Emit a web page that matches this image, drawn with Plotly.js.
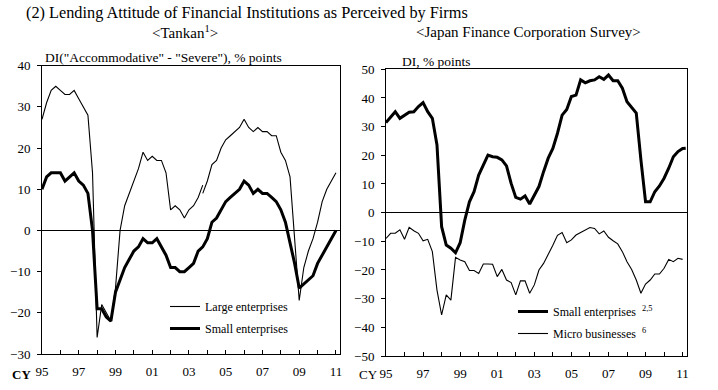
<!DOCTYPE html>
<html>
<head>
<meta charset="utf-8">
<script src="https://cdn.plot.ly/plotly-3.0.1.min.js"></script>
<style>html,body{margin:0;padding:0;background:#fff;}#chart{width:718px;height:390px;}</style>
</head>
<body>
<div id="chart"></div>
<script>
// ---- Data (quarterly, 1995Q1 .. 2011Q1) ----
const startYear = 1995;
const labelYears = [1995,1997,1999,2001,2003,2005,2007,2009,2011];
const labelText = ["95","97","99","01","03","05","07","09","11"];

// Tankan: Large enterprises (old basis, 1995Q1..2003Q4)
const tankanLargeOld = [27,31,34,35,34,33,33,34,32,30,28,14,-26,-18,-20,-22,-14,0,6,9,12,15,19,17,18,17,17,14,5,6,5,3,5,6,8,11];
// Tankan: Large enterprises (new basis, 2003Q4..2011Q1)
const tankanLargeNew = [9,12,16,17,20,22,23,24,25,27,25,24,25,24,24,23,23,19,17,13,-2,-17,-9,-5,-2,2,7,10,12,14];
const tankanLargeNewStart = 35; // quarter index of 2003Q4
// Tankan: Small enterprises (1995Q1..2011Q1)
const tankanSmall = [10,13,14,14,14,12,13,14,12,11,9,0,-19,-19,-21,-22,-15,-12,-9,-7,-5,-4,-2,-3,-3,-2,-4,-6,-9,-9,-10,-10,-9,-8,-5,-4,-2,2,3,5,7,8,9,10,12,11,9,10,9,9,8,7,5,2,-3,-8,-14,-13,-12,-11,-8,-6,-4,-2,0];

// Japan Finance Corporation Survey
const jfcSmall = [31.4,33.3,35.2,32.9,34,35,35.2,37,38.4,35.2,32.9,23.6,-4.9,-11.3,-12.4,-14,-10.5,-2.6,3.8,7.3,13.1,16.6,20.1,19.5,19.3,18.4,16.3,10.2,5.3,4.7,5.8,3,6.2,9.1,14.3,19,22.4,27.7,34,36,40.5,41,46.3,45.3,46,46.3,47.4,46.5,48,46,46,43.4,38.7,36.6,34.7,18.4,3.8,3.8,7.3,9.3,12,15.5,19.5,21.3,22.4];
const jfcSmallLatest = {period: 2011 + 2/12, value: 22.5}; // latest monthly reading
const jfcMicro = [-9,-7.2,-7.2,-6,-9.3,-5.1,-6.3,-7.2,-9.8,-9.3,-13.6,-27,-35.7,-28.7,-30.5,-15.6,-16.5,-17.1,-20.2,-20.2,-21.2,-17.9,-17.9,-18,-22.3,-19.8,-23.5,-24.4,-28.7,-23.8,-23.8,-28.1,-25.2,-20,-17.7,-14.8,-11.4,-7.9,-6.9,-10.5,-9.5,-7.8,-7,-6,-5.2,-5.5,-7.4,-6.4,-8.6,-9.8,-10.9,-13.6,-17.1,-19.8,-23.5,-28.1,-24.9,-23.5,-21.4,-21.4,-19.4,-16.3,-17.1,-15.9,-16.3];

// ---- helpers ----
const qx = (i) => startYear + i / 4;
const xs = (arr, offset) => arr.map((_, i) => qx(i + (offset || 0)));

const W = 718, H = 390;
const FONT = "Liberation Serif";
const px = (v) => v / W;
const py = (v) => 1 - v / H;

const traces = [
  {x: xs(tankanLargeOld), y: tankanLargeOld, type: 'scatter', mode: 'lines', name: 'Large enterprises',
   line: {color: '#000', width: 1.1}, xaxis: 'x', yaxis: 'y', legend: 'legend', legendgroup: 'a', legendrank: 1},
  {x: xs(tankanLargeNew, tankanLargeNewStart), y: tankanLargeNew, type: 'scatter', mode: 'lines', name: 'Large enterprises',
   line: {color: '#000', width: 1.1}, xaxis: 'x', yaxis: 'y', showlegend: false, legendgroup: 'a'},
  {x: xs(tankanSmall), y: tankanSmall, type: 'scatter', mode: 'lines', name: 'Small enterprises',
   line: {color: '#000', width: 3}, xaxis: 'x', yaxis: 'y', legend: 'legend', legendgroup: 'b', legendrank: 2},
  {x: xs(jfcSmall).concat([jfcSmallLatest.period]), y: jfcSmall.concat([jfcSmallLatest.value]), type: 'scatter', mode: 'lines',
   name: 'Small enterprises\u00a0\u00a0<sup>2,5</sup>',
   line: {color: '#000', width: 3}, xaxis: 'x2', yaxis: 'y2', legend: 'legend2', legendgroup: 'c', legendrank: 1},
  {x: xs(jfcMicro), y: jfcMicro, type: 'scatter', mode: 'lines',
   name: 'Micro businesses\u00a0\u00a0<sup>6</sup>',
   line: {color: '#000', width: 1.1}, xaxis: 'x2', yaxis: 'y2', legend: 'legend2', legendgroup: 'd', legendrank: 2}
];

const xCommon = {
  range: [1995, 2011.22], tickmode: 'array', tickvals: labelYears, ticktext: labelText,
  ticks: 'inside', ticklen: 4, tickcolor: '#000', tickwidth: 1,
  minor: {tick0: 1995, dtick: 1, ticks: 'inside', ticklen: 4, tickcolor: '#000', tickwidth: 1, showgrid: false},
  showline: true, linecolor: '#000', linewidth: 1, mirror: true,
  showgrid: false, zeroline: false, fixedrange: true,
  tickfont: {family: FONT, size: 13, color: '#000'}, ticklabelstandoff: 5
};
const yCommon = {
  ticks: 'outside', ticklen: 4, tickcolor: '#000', tickwidth: 1,
  showline: true, linecolor: '#000', linewidth: 1, mirror: true,
  showgrid: false, zeroline: true, zerolinecolor: '#000', zerolinewidth: 1,
  tickfont: {family: FONT, size: 13, color: '#000'}, ticklabelstandoff: 4, dtick: 10
};

const layout = {
  width: W, height: H,
  margin: {l: 0, r: 0, t: 0, b: 0},
  paper_bgcolor: '#fff', plot_bgcolor: '#fff',
  font: {family: FONT, color: '#000', size: 13},
  title: {text: '(2) Lending Attitude of Financial Institutions as Perceived by Firms',
    font: {family: FONT, size: 16.3, color: '#000'},
    x: px(26), xanchor: 'left', xref: 'paper', y: py(12.5), yanchor: 'middle', yref: 'container'},
  xaxis: Object.assign({}, xCommon, {domain: [px(42), px(340)], anchor: 'y'}),
  yaxis: Object.assign({}, yCommon, {domain: [py(354), py(65.7)], range: [-30, 40], anchor: 'x'}),
  xaxis2: Object.assign({}, xCommon, {domain: [px(386), px(686.7)], anchor: 'y2'}),
  yaxis2: Object.assign({}, yCommon, {domain: [py(356), py(69.3)], range: [-50, 50], anchor: 'x2'}),
  showlegend: true,
  legend: {x: px(165), xanchor: 'left', y: py(292), yanchor: 'top', bgcolor: 'rgba(0,0,0,0)',
    borderwidth: 0, font: {family: FONT, size: 12, color: '#000'}, tracegroupgap: 3, traceorder: 'grouped'},
  legend2: {x: px(513), xanchor: 'left', y: py(297), yanchor: 'top', bgcolor: 'rgba(0,0,0,0)',
    borderwidth: 0, font: {family: FONT, size: 12, color: '#000'}, tracegroupgap: 3, traceorder: 'grouped'},
  annotations: [
    {text: '&lt;Tankan<sup>1</sup>&gt;', xref: 'paper', yref: 'paper', x: px(185), y: py(31.5),
     xanchor: 'center', yanchor: 'middle', showarrow: false, font: {family: FONT, size: 15}},
    {text: '&lt;Japan Finance Corporation Survey&gt;', xref: 'paper', yref: 'paper', x: px(528), y: py(31.5),
     xanchor: 'center', yanchor: 'middle', showarrow: false, font: {family: FONT, size: 15}},
    {text: 'DI("Accommodative" - "Severe"), % points', xref: 'paper', yref: 'paper', x: px(43), y: py(57.5),
     xanchor: 'left', yanchor: 'middle', showarrow: false, font: {family: FONT, size: 13.5}},
    {text: 'DI, % points', xref: 'paper', yref: 'paper', x: px(400), y: py(61.5),
     xanchor: 'left', yanchor: 'middle', showarrow: false, font: {family: FONT, size: 13.5}},
    {text: '<b>CY</b>', xref: 'paper', yref: 'paper', x: px(33), y: py(374),
     xanchor: 'right', yanchor: 'middle', showarrow: false, font: {family: FONT, size: 13}},
    {text: 'CY', xref: 'paper', yref: 'paper', x: px(380), y: py(374.5),
     xanchor: 'right', yanchor: 'middle', showarrow: false, font: {family: FONT, size: 13}}
  ]
};

Plotly.newPlot('chart', traces, layout, {staticPlot: true, displayModeBar: false});
</script>
</body>
</html>
